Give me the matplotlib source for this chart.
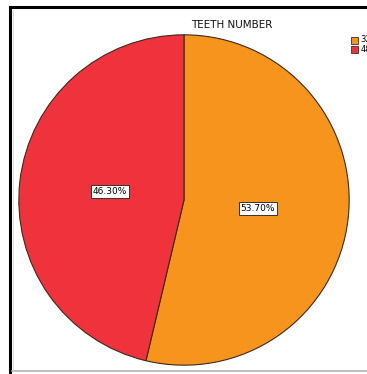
import matplotlib.pyplot as plt
from matplotlib.patches import Rectangle
from matplotlib.lines import Line2D

labels = ["32", "48"]
shares = [53.70, 46.30]
colors = ["#F7941E", "#EF323B"]

fig = plt.figure(figsize=(3.67, 3.74), dpi=100)
fig.patch.set_facecolor("white")

# outer frame: heavy black left/top, light grey bottom
fig.add_artist(Line2D([9.5 / 367, 9.5 / 367], [0, 1 - 7 / 374], color="black", lw=2.2))
fig.add_artist(Line2D([9.5 / 367, 1], [1 - 7 / 374, 1 - 7 / 374], color="black", lw=2.2))
fig.add_artist(Line2D([12 / 367, 1], [1 - 371 / 374, 1 - 371 / 374], color="#b0b0b0", lw=1.2))
fig.add_artist(Line2D([12.5 / 367, 12.5 / 367], [1 - 371 / 374, 1 - 10 / 374], color="#d8d8d8", lw=0.6))

# pie axes: centre (184, 200), radius 166 px
r = 166
ax = fig.add_axes([(184 - r) / 367, 1 - (200 + r) / 374, 2 * r / 367, 2 * r / 374])
wedges, texts, autotexts = ax.pie(
    shares, colors=colors, startangle=90, counterclock=False,
    autopct=lambda p: f"{p:.2f}%", pctdistance=0.45,
    wedgeprops=dict(edgecolor="#3a2a20", linewidth=0.8),
)
for t in autotexts:
    t.set_fontsize(6.5)
    t.set_color("black")
    t.set_bbox(dict(facecolor="white", edgecolor="#333333", linewidth=0.7, boxstyle="square,pad=0.2"))
ax.set_aspect("auto")
ax.set_xlim(-1.005, 1.005)
ax.set_ylim(-1.005, 1.005)

fig.text(232 / 367, 1 - 25 / 374, "TEETH NUMBER", ha="center", va="center",
         fontsize=7.5, color="#111111")

# legend entries running off the right edge
for i, (lab, c) in enumerate(zip(labels, colors)):
    y = 40 + i * 9
    fig.add_artist(Rectangle((351 / 367, 1 - (y + 3.5) / 374), 7 / 367, 7 / 374,
                             transform=fig.transFigure, facecolor=c,
                             edgecolor="#333333", linewidth=0.6))
    fig.text(360.5 / 367, 1 - y / 374, lab, ha="left", va="center", fontsize=6)

fig.savefig("out.png", dpi=100)
